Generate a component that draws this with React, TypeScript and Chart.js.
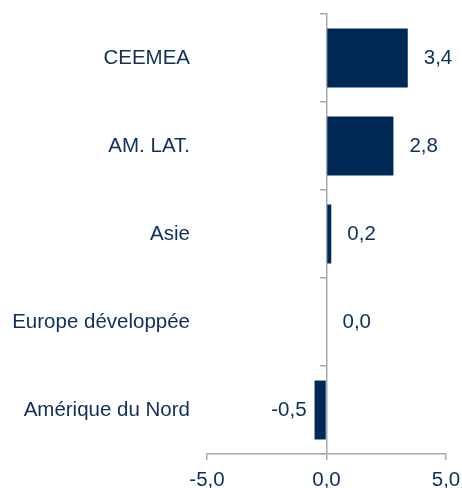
import React, { useEffect, useRef } from "react";
import { Chart, registerables } from "chart.js";

Chart.register(...registerables);

const categories = ["CEEMEA", "AM. LAT.", "Asie", "Europe développée", "Amérique du Nord"];
const values = [3.4, 2.8, 0.2, 0.0, -0.5];
const xTicks = [-5, 0, 5];

const NAVY = "#002855";
const TEXT = "#0E2F5A";
const GREY = "#A3ACB6";
const FONT = "'Liberation Sans', Arial, sans-serif";
const FS = 20.5;

const fmt = (v: number) => v.toFixed(1).replace(".", ",");

const valueLabels = {
  id: "valueLabels",
  afterDatasetsDraw(chart: any) {
    const ctx = chart.ctx;
    const meta = chart.getDatasetMeta(0);
    ctx.save();
    ctx.font = `${FS}px ${FONT}`;
    ctx.fillStyle = TEXT;
    ctx.textBaseline = "middle";
    meta.data.forEach((el: any, i: number) => {
      const v = values[i];
      if (v >= 0) {
        ctx.textAlign = "left";
        ctx.fillText(fmt(v), el.x + 16, el.y);
      } else {
        ctx.textAlign = "right";
        ctx.fillText(fmt(v), el.x - 8, el.y);
      }
    });
    ctx.restore();
  },
};

const noPad = (scale: any) => {
  scale.paddingTop = 0;
  scale.paddingBottom = 0;
  scale.paddingLeft = 0;
  scale.paddingRight = 0;
};

export default function App() {
  const ref = useRef<HTMLCanvasElement | null>(null);
  useEffect(() => {
    if (!ref.current) return;
    const chart = new Chart(ref.current, {
      type: "bar",
      data: {
        labels: categories,
        datasets: [
          {
            data: values,
            backgroundColor: NAVY,
            borderWidth: 0,
            barPercentage: 0.67,
            categoryPercentage: 1,
          },
        ],
      },
      options: {
        indexAxis: "y",
        animation: false,
        responsive: true,
        maintainAspectRatio: false,
        layout: { padding: { top: 14, right: 16, left: 0, bottom: 0 } },
        plugins: { legend: { display: false }, tooltip: { enabled: false } },
        scales: {
          x: {
            type: "linear",
            min: -5,
            max: 5,
            afterBuildTicks: (scale: any) => {
              scale.ticks = xTicks.map((v) => ({ value: v }));
            },
            afterFit: (scale: any) => {
              scale.height = 34;
              noPad(scale);
            },
            ticks: {
              callback: (v: any) => fmt(Number(v)),
              color: TEXT,
              font: { family: FONT, size: FS },
              padding: 8,
              maxRotation: 0,
            },
            grid: {
              display: true,
              drawOnChartArea: false,
              drawTicks: true,
              tickLength: 6,
              color: GREY,
              lineWidth: 1.5,
            },
            border: { display: true, color: GREY, width: 1.5 },
          },
          y: {
            type: "category",
            position: "left",
            afterFit: (scale: any) => {
              scale.width = 207;
              noPad(scale);
            },
            ticks: {
              color: TEXT,
              font: { family: FONT, size: FS },
              padding: 17,
            },
            grid: { display: false, drawTicks: false },
            border: { display: false },
          },
          y2: {
            type: "category",
            axis: "y",
            position: { x: 0 },
            offset: true,
            afterFit: noPad,
            ticks: { display: false },
            grid: {
              display: true,
              offset: true,
              drawOnChartArea: false,
              drawTicks: true,
              tickLength: 6,
              color: GREY,
              lineWidth: 1.5,
            },
            border: { display: true, color: GREY, width: 1.5 },
          },
        } as any,
      },
      plugins: [valueLabels],
    });
    return () => chart.destroy();
  }, []);

  return (
    <div style={{ position: "absolute", left: 0, top: 0, width: 462, height: 488 }}>
      <canvas ref={ref} />
    </div>
  );
}
